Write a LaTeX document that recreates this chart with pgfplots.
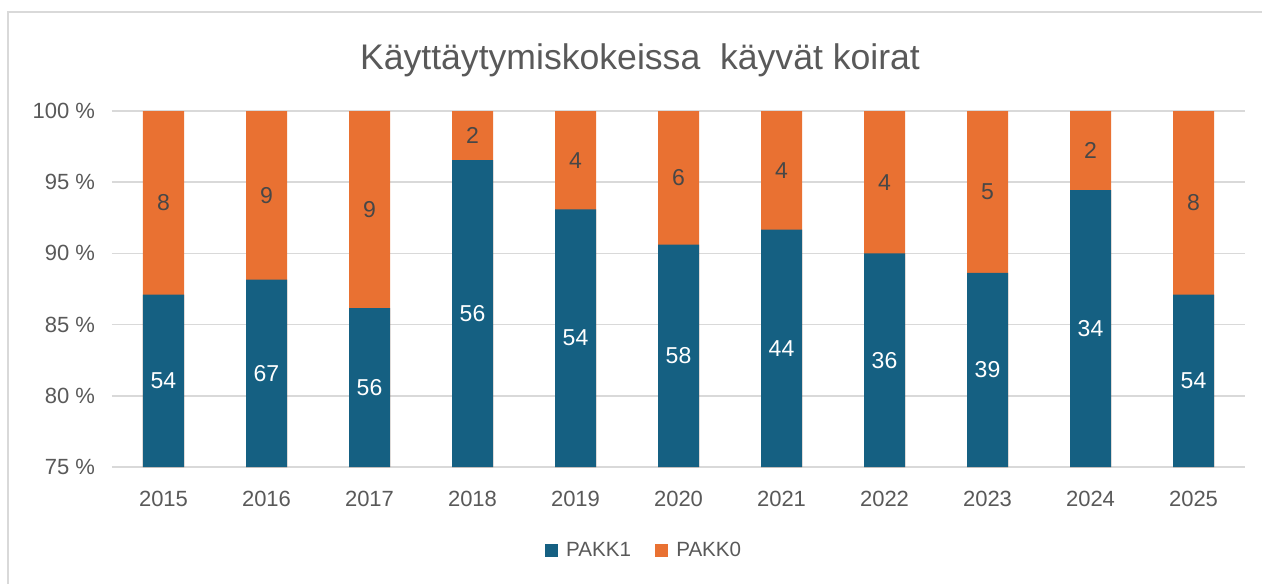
\documentclass[border=0pt]{standalone}
\usepackage{pgfplots}
\pgfplotsset{compat=1.18}
\usepackage{fontspec}
\setmainfont{Liberation Sans}
\definecolor{pblue}{HTML}{156082}
\definecolor{porange}{HTML}{E97132}
\definecolor{gridc}{HTML}{D9D9D9}
\definecolor{txt}{HTML}{595959}
\begin{document}
\begin{tikzpicture}
\useasboundingbox (-56pt,-58pt) rectangle (575pt,233.5pt);
\draw[gridc, line width=1pt] (-52pt,-60pt) -- (-52pt,227.5pt) -- (577pt,227.5pt);
\begin{axis}[
  at={(0,0)}, anchor=south west,
  scale only axis, width=566.5pt, height=178pt,
  xmin=-0.5, xmax=10.5, ymin=75, ymax=100,
  ytick={75,80,...,100},
  xtick={0,...,10},
  xticklabels={2015,2016,2017,2018,2019,2020,2021,2022,2023,2024,2025},
  ymajorgrids, grid style={gridc, line width=0.75pt},
  axis line style={draw=none},
  major tick length=0pt,
  tick label style={font=\fontsize{11}{13}\selectfont, text=txt},
  /pgf/number format/assume math mode=true,
  yticklabel={\pgfmathprintnumber{\tick}~\%},
  yticklabel style={xshift=-5pt},
  xticklabel style={yshift=-8.5pt},
  title={Käyttäytymiskokeissa\ \ käyvät koirat},
  title style={font=\fontsize{17.8}{21}\selectfont, text=txt, at={(0.466,1)}, anchor=center, yshift=19.5pt},
  legend style={at={(0.4705,-0.235)}, anchor=center, draw=none, fill=none, legend columns=2,
    font=\fontsize{10.3}{12}\selectfont, text=txt,
    /tikz/every even column/.append style={column sep=10pt}},
  legend image code/.code={\fill[#1] (0pt,-3.3pt) rectangle (6.6pt,3.3pt);},
]
\addplot[ybar, bar width=20.5pt, bar shift=0pt, fill=porange, draw=none, forget plot] coordinates {
(0,100) (1,100) (2,100) (3,100) (4,100) (5,100) (6,100) (7,100) (8,100) (9,100) (10,100)};
\addplot[ybar, bar width=20.5pt, bar shift=0pt, fill=pblue, draw=none, forget plot] coordinates {
(0,87.10) (1,88.16) (2,86.15) (3,96.55) (4,93.10) (5,90.625) (6,91.67) (7,90.00) (8,88.64) (9,94.44) (10,87.10)};
\addplot[only marks, mark=none, nodes near coords, point meta=explicit symbolic, forget plot,
  every node near coord/.style={font=\fontsize{11.5}{13}\selectfont, text=white, anchor=center}] coordinates {
(0,81.05)[54] (1,81.58)[67] (2,80.58)[56] (3,85.78)[56] (4,84.05)[54] (5,82.81)[58] (6,83.33)[44] (7,82.5)[36] (8,81.82)[39] (9,84.72)[34] (10,81.05)[54]};
\addplot[only marks, mark=none, nodes near coords, point meta=explicit symbolic, forget plot,
  every node near coord/.style={font=\fontsize{11.5}{13}\selectfont, text=txt!80!black, anchor=center}] coordinates {
(0,93.55)[8] (1,94.08)[9] (2,93.08)[9] (3,98.28)[2] (4,96.55)[4] (5,95.31)[6] (6,95.83)[4] (7,95.0)[4] (8,94.32)[5] (9,97.22)[2] (10,93.55)[8]};
\addlegendimage{fill=pblue, draw=none}
\addlegendentry{\hspace{2pt}PAKK1}
\addlegendimage{fill=porange, draw=none}
\addlegendentry{\hspace{2pt}PAKK0}
\end{axis}
\end{tikzpicture}
\end{document}
